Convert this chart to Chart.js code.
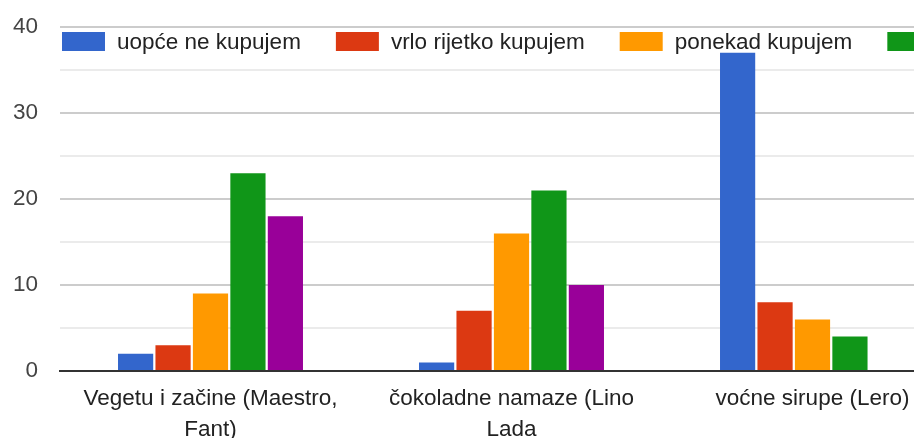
<!DOCTYPE html>
<html>
<head>
<meta charset="utf-8">
<script src="https://cdn.jsdelivr.net/npm/chart.js@4.4.1/dist/chart.umd.min.js"></script>
<style>
html,body{margin:0;padding:0;background:#fff;overflow:hidden;}
#wrap{width:1000px;height:438px;position:relative;}
</style>
</head>
<body>
<div id="wrap"><canvas id="c" width="1000" height="438"></canvas></div>
<script>
const categories = [
  ["Vegetu i začine (Maestro,", "Fant)"],
  ["čokoladne namaze (Lino", "Lada"],
  ["voćne sirupe (Lero)"]
];
const seriesNames = ["uopće ne kupujem", "vrlo rijetko kupujem", "ponekad kupujem", "često kupujem", "uvijek kupujem"];
const uopceNe = [2, 1, 37];
const vrloRijetko = [3, 7, 8];
const ponekad = [9, 16, 6];
const cesto = [23, 21, 4];
const uvijek = [18, 10, 0];
const yTicks = [0, 10, 20, 30, 40];
const colors = ["#3366cc", "#dc3912", "#ff9900", "#109618", "#990099"];

const seriesValues = [uopceNe, vrloRijetko, ponekad, cesto, uvijek];
const FONT = "'Liberation Sans', Arial, sans-serif";
const FS = 22.5;

const legendPlugin = {
  id: 'topLegend',
  afterDraw(chart) {
    const ctx = chart.ctx;
    const ca = chart.chartArea;
    let x = ca.left + 2;
    const top = 32, bh = 19, bw = 43;
    ctx.save();
    ctx.font = FS + "px " + FONT;
    ctx.textBaseline = 'middle';
    ctx.textAlign = 'left';
    chart.data.datasets.forEach(ds => {
      ctx.fillStyle = ds.backgroundColor;
      ctx.fillRect(x, top, bw, bh);
      x += bw + 12;
      ctx.fillStyle = '#222';
      ctx.fillText(ds.label, x, top + bh / 2 + 1);
      x += ctx.measureText(ds.label).width + 35;
    });
    ctx.restore();
  }
};

new Chart(document.getElementById('c'), {
  type: 'bar',
  data: {
    labels: categories,
    datasets: seriesNames.map((n, i) => ({
      label: n,
      data: seriesValues[i],
      backgroundColor: colors[i],
      borderWidth: 0,
      barPercentage: 0.94,
      categoryPercentage: 0.622
    }))
  },
  options: {
    responsive: false,
    animation: false,
    layout: { padding: { top: 27, right: 37, left: 0, bottom: 0 } },
    plugins: { legend: { display: false }, tooltip: { enabled: false } },
    scales: {
      x: {
        afterFit(scale) { scale.height = 67; scale.paddingLeft = 0; scale.paddingRight = 0; },
        grid: { display: false, drawTicks: false },
        border: { display: true, color: '#333', width: 2 },
        ticks: { color: '#222', font: { size: FS, family: FONT, lineHeight: 1.4 }, padding: 12, maxRotation: 0, autoSkip: false }
      },
      y: {
        min: 0, max: 40,
        afterFit(scale) { scale.width = 60; scale.paddingTop = 0; scale.paddingBottom = 0; },
        afterBuildTicks(scale) {
          const t = [];
          for (let v = 0; v <= 40; v += 5) t.push({ value: v });
          scale.ticks = t;
        },
        border: { display: false },
        grid: {
          drawTicks: false,
          color: ctx => (ctx.tick && ctx.tick.value % 10 === 0) ? '#cccccc' : '#ebebeb',
          lineWidth: 2
        },
        ticks: {
          color: '#444',
          font: { size: FS, family: FONT },
          padding: 22,
          callback: v => yTicks.includes(v) ? String(v) : ''
        }
      }
    }
  },
  plugins: [legendPlugin]
});
</script>
</body>
</html>
